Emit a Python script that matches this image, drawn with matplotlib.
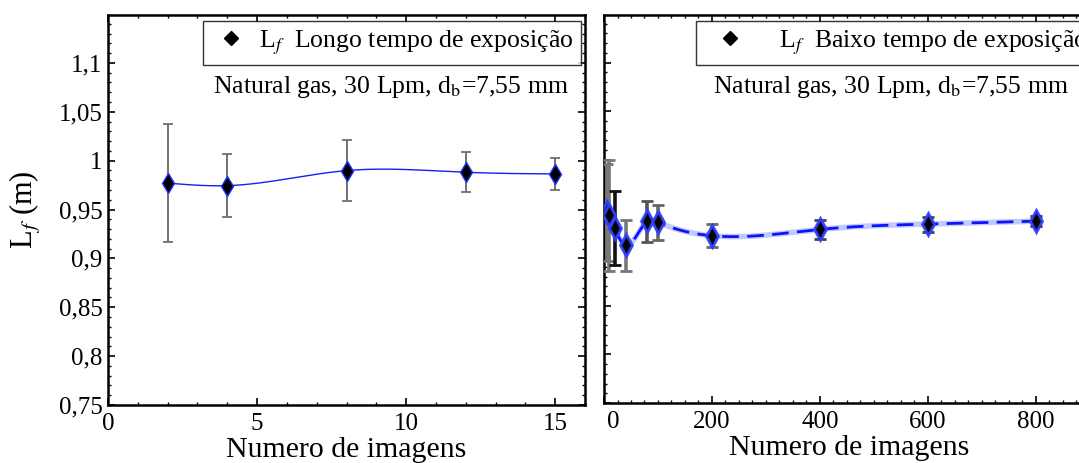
import matplotlib
matplotlib.use("Agg")
import matplotlib.pyplot as plt
import matplotlib.transforms as mtransforms
import numpy as np
from matplotlib.ticker import FuncFormatter, MultipleLocator

plt.rcParams["font.family"] = ["Liberation Serif", "DejaVu Serif"]
plt.rcParams["mathtext.fontset"] = "stix"

# Long exposure (left panel)
long_n = [2, 4, 8, 12, 15]
long_lf = [0.977, 0.9744, 0.9898, 0.9881, 0.9864]
long_err = [0.060, 0.032, 0.031, 0.0205, 0.0167]

# Short exposure (right panel)
short_n = [5, 10, 20, 40, 80, 100, 200, 400, 600, 800]
short_lf = [0.946, 0.943, 0.930, 0.912, 0.937, 0.936, 0.922, 0.9285, 0.934, 0.937]
short_err = [0.050, 0.057, 0.038, 0.026, 0.021, 0.018, 0.012, 0.0095, 0.0077, 0.0048]
short_err_colors = ["#777777", "#777777", "#111111", "#777777", "#555555",
                    "#666666", "#666666", "#444444", "#444444", "#333333"]

LABEL = "Natural gas, 30 Lpm, d$_{\\mathrm{b}}$=7,55 mm"


def natural_spline(x, y, num=400):
    # plain natural cubic spline so the connecting line is smooth like the original
    x = np.asarray(x, float)
    y = np.asarray(y, float)
    n = len(x)
    h = np.diff(x)
    a = np.zeros((n, n))
    r = np.zeros(n)
    a[0, 0] = a[-1, -1] = 1.0
    for i in range(1, n - 1):
        a[i, i - 1] = h[i - 1]
        a[i, i] = 2 * (h[i - 1] + h[i])
        a[i, i + 1] = h[i]
        r[i] = 3 * ((y[i + 1] - y[i]) / h[i] - (y[i] - y[i - 1]) / h[i - 1])
    c = np.linalg.solve(a, r)
    xs = np.linspace(x[0], x[-1], num)
    idx = np.clip(np.searchsorted(x, xs) - 1, 0, n - 2)
    dx = xs - x[idx]
    b = (y[1:] - y[:-1]) / h - h * (2 * c[:-1] + c[1:]) / 3
    d = (c[1:] - c[:-1]) / (3 * h)
    ys = y[idx] + b[idx] * dx + c[idx] * dx**2 + d[idx] * dx**3
    return xs, ys


def comma_fmt(v, pos):
    return ("%g" % round(v, 4)).replace(".", ",")


def style_axes(ax):
    ax.set_ylim(0.75, 1.149)
    ax.yaxis.set_major_locator(MultipleLocator(0.05))
    ax.yaxis.set_minor_locator(MultipleLocator(0.01))
    ax.tick_params(which="both", direction="in", top=True, right=True, labelsize=18)
    ax.tick_params(which="major", length=5, width=1.2)
    ax.tick_params(which="minor", length=2.5, width=1.0)
    ax.tick_params(axis="x", which="major", pad=6)
    ax.tick_params(axis="y", which="major", pad=4)
    for s in ax.spines.values():
        s.set_linewidth(1.8)


fig = plt.figure(figsize=(10.79, 4.63), dpi=100)
ax1 = fig.add_axes([0.1001, 0.1253, 0.4421, 0.8423])
ax2 = fig.add_axes([0.5598, 0.1296, 0.455, 0.8380])

# left panel
style_axes(ax1)
ax1.set_xlim(0, 16)
ax1.xaxis.set_major_locator(MultipleLocator(5))
ax1.xaxis.set_minor_locator(MultipleLocator(1))
ax1.yaxis.set_major_formatter(FuncFormatter(comma_fmt))
xs, ys = natural_spline(long_n, long_lf)
ax1.plot(xs, ys, color="#1a1aff", lw=1.0, zorder=2)
eb = ax1.errorbar(long_n, long_lf, yerr=long_err, fmt="none", ecolor="#666666",
                  elinewidth=1.3, capsize=3.5, capthick=1.2, zorder=3)
for cl in eb[1]:
    cl.set_color("black")
ax1.plot(long_n, long_lf, ls="none", marker="d", ms=10, mfc="black",
         mec="#2030ff", mew=1.0, zorder=4)
ax1.plot([], [], ls="none", marker="D", ms=7, color="black",
         label="L$_{f}$  Longo tempo de exposição")
leg1 = ax1.legend(loc="upper right", bbox_to_anchor=(0.992, 0.985), fontsize=18.5,
                  frameon=True, fancybox=False, edgecolor="black",
                  handletextpad=0.3, borderpad=0.3, handlelength=1.6,
                  borderaxespad=0.0)
leg1.get_frame().set_linewidth(1.0)
ax1.text(0.966, 0.815, LABEL, transform=ax1.transAxes, ha="right", va="center",
         fontsize=18.5)
ax1.set_xlabel("Numero de imagens", fontsize=21.5, labelpad=1)
ax1.set_ylabel("L$_{f}$ (m)", fontsize=22, labelpad=11)

# right panel
style_axes(ax2)
ax2.set_xlim(0, 910)
ax2.xaxis.set_major_locator(MultipleLocator(200))
ax2.xaxis.set_minor_locator(MultipleLocator(25))
ax2.tick_params(labelleft=False)
xs, ys = natural_spline(short_n, short_lf)
ax2.plot(xs, ys, color="#3a4dff", lw=4.0, alpha=0.3, zorder=2)
ax2.plot(xs, ys, color="#0a14ff", lw=2.0, ls=(0, (6, 3)), zorder=2)
for xv, yv, ev, col in zip(short_n, short_lf, short_err, short_err_colors):
    ax2.errorbar([xv], [yv], yerr=[ev], fmt="none", ecolor=col, elinewidth=2.6,
                 capsize=4, capthick=2.0, zorder=3)
ax2.plot(short_n, short_lf, ls="none", marker="d", ms=11, mfc="black",
         mec="#3040ff", mew=2.0, alpha=0.95, zorder=4)
ax2.plot([], [], ls="none", marker="D", ms=7, color="black",
         label="L$_{f}$  Baixo tempo de exposição")
leg2 = ax2.legend(loc="upper right", bbox_to_anchor=(1.0, 0.985), fontsize=18.5,
                  frameon=True, fancybox=False, edgecolor="black",
                  handletextpad=0.9, borderpad=0.3, handlelength=2.0,
                  borderaxespad=0.0)
leg2.get_frame().set_linewidth(1.0)
ax2.text(0.947, 0.815, LABEL, transform=ax2.transAxes, ha="right", va="center",
         fontsize=18.5)
ax2.set_xlabel("Numero de imagens", fontsize=21.5, labelpad=1)

# the "0" label sits a bit right of the axis start in the original
fig.canvas.draw()
off = mtransforms.ScaledTranslation(9 / 100, 0, fig.dpi_scale_trans)
for lbl in ax2.get_xticklabels():
    if lbl.get_text() == "0":
        lbl.set_transform(lbl.get_transform() + off)

fig.savefig("out.png", dpi=100)
